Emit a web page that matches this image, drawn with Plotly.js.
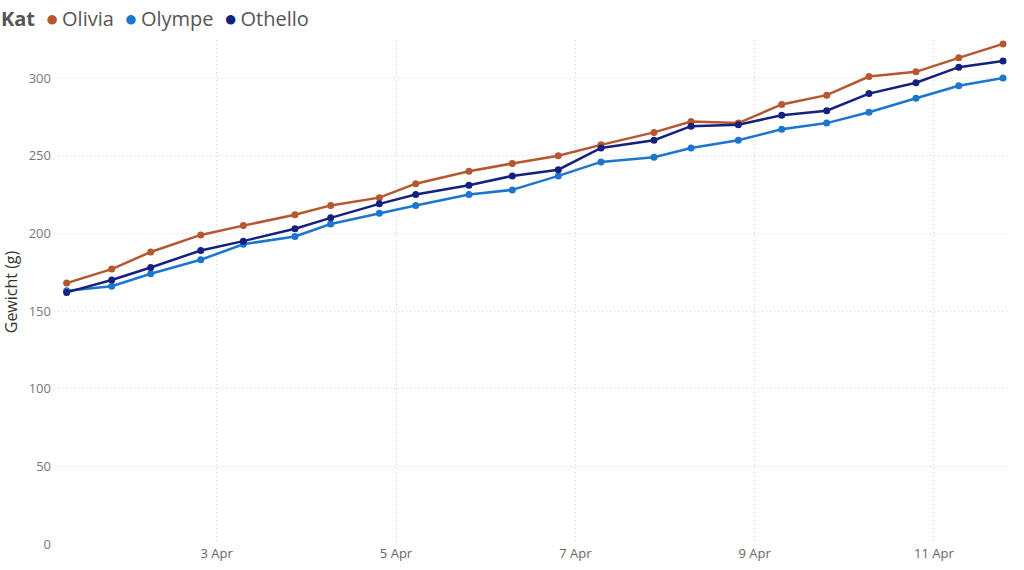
<!DOCTYPE html>
<html>
<head>
<meta charset="utf-8">
<script src="https://cdn.plot.ly/plotly-3.0.1.min.js"></script>
<style>html,body{margin:0;padding:0;background:#fff;}#chart{width:1024px;height:570px;}</style>
</head>
<body>
<div id="chart"></div>
<script>
const times = [
  "2021-04-01 07:50", "2021-04-01 19:54", "2021-04-02 06:20", "2021-04-02 19:44",
  "2021-04-03 07:08", "2021-04-03 20:57", "2021-04-04 06:31", "2021-04-04 19:32",
  "2021-04-05 05:17", "2021-04-05 19:32", "2021-04-06 07:08", "2021-04-06 19:27",
  "2021-04-07 06:53", "2021-04-07 21:04", "2021-04-08 06:59", "2021-04-08 19:38",
  "2021-04-09 07:15", "2021-04-09 19:18", "2021-04-10 06:37", "2021-04-10 19:12",
  "2021-04-11 06:39", "2021-04-11 18:30"
];
const olivia  = [168, 177, 188, 199, 205, 212, 218, 223, 232, 240, 245, 250, 257, 265, 272, 271, 283, 289, 301, 304, 313, 322];
const olympe  = [163, 166, 174, 183, 193, 198, 206, 213, 218, 225, 228, 237, 246, 249, 255, 260, 267, 271, 278, 287, 295, 300];
const othello = [162, 170, 178, 189, 195, 203, 210, 219, 225, 231, 237, 241, 255, 260, 269, 270, 276, 279, 290, 297, 307, 311];
const seriesNames = ["Olivia", "Olympe", "Othello"];
const seriesValues = [olivia, olympe, othello];
const colors = ["#B5572F", "#1C76CC", "#15217E"];
const legendTitle = "Kat";
const tickVals = ["2021-04-03", "2021-04-05", "2021-04-07", "2021-04-09", "2021-04-11"];
const tickText = ["3 Apr", "5 Apr", "7 Apr", "9 Apr", "11 Apr"];

const traces = seriesNames.map((n, i) => ({
  x: times, y: seriesValues[i], name: n, type: "scatter", mode: "lines+markers",
  line: {color: colors[i], width: 2.5}, marker: {color: colors[i], size: 7},
  showlegend: false, cliponaxis: false
}));

let legendText = "<b>" + legendTitle + "</b>&nbsp; ";
seriesNames.forEach((n, i) => {
  legendText += "<span style='color:" + colors[i] + ";font-size:22px'>●</span>\u2009" + n + (i < seriesNames.length - 1 ? "&nbsp; " : "");
});

const layout = {
  width: 1024, height: 570,
  margin: {l: 58, r: 14, t: 40, b: 26},
  paper_bgcolor: "#fff", plot_bgcolor: "#fff",
  font: {family: "Open Sans, sans-serif", color: "#666"},
  showlegend: false,
  annotations: [{
    xref: "paper", yref: "paper", x: -0.062, y: 1.0, xanchor: "left", yanchor: "bottom", yshift: 6,
    text: legendText, showarrow: false, align: "left",
    font: {size: 20, color: "#555"}
  }],
  xaxis: {
    type: "date",
    range: ["2021-04-01 05:31", "2021-04-11 20:22"],
    tickvals: tickVals, ticktext: tickText,
    showgrid: true, gridcolor: "#d4d4d4", griddash: "1px,3px", gridwidth: 1,
    zeroline: false, showline: false, ticks: "",
    tickfont: {size: 13, color: "#666"}
  },
  yaxis: {
    range: [0, 324.5],
    tickvals: [0, 50, 100, 150, 200, 250, 300],
    showgrid: true, gridcolor: "#d4d4d4", griddash: "1px,3px", gridwidth: 1,
    zeroline: false, showline: false, ticks: "", ticklabelstandoff: 6,
    tickfont: {size: 13, color: "#777"},
    title: {text: "Gewicht (g)", font: {size: 16, color: "#333"}, standoff: 8}
  }
};
Plotly.newPlot("chart", traces, layout, {displayModeBar: false, staticPlot: true});
</script>
</body>
</html>
